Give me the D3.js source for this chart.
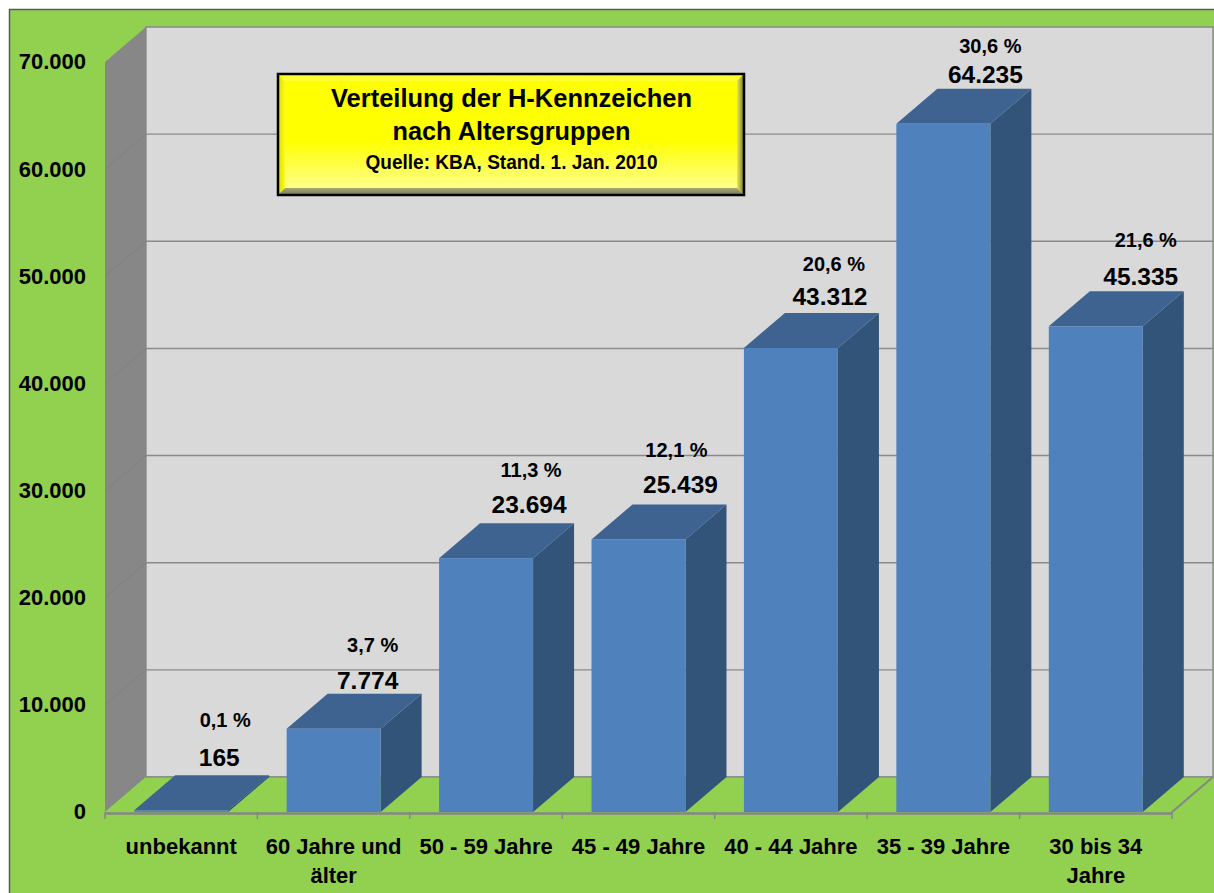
<!DOCTYPE html>
<html><head><meta charset="utf-8">
<script src="https://cdn.jsdelivr.net/npm/d3@7"></script>
<style>html,body{margin:0;padding:0;background:#fff;overflow:hidden}svg{display:block}text{font-family:"Liberation Sans",Arial,sans-serif;font-weight:bold;fill:#000}</style>
</head><body><svg id="c" width="1214" height="893"></svg>
<script>
const categories=["unbekannt","60 Jahre und|älter","50 - 59 Jahre","45 - 49 Jahre","40 - 44 Jahre","35 - 39 Jahre","30 bis 34|Jahre"];
const values=[165,7774,23694,25439,43312,64235,45335];
const valueLabels=["165","7.774","23.694","25.439","43.312","64.235","45.335"];
const percentLabels=["0,1 %","3,7 %","11,3 %","12,1 %","20,6 %","30,6 %","21,6 %"];
const yTicks=[0,10000,20000,30000,40000,50000,60000,70000];
const yTickLabels=["0","10.000","20.000","30.000","40.000","50.000","60.000","70.000"];
const titleLines=["Verteilung der H-Kennzeichen","nach Altersgruppen","Quelle: KBA, Stand. 1. Jan. 2010"];

// Layout: hand-placed label offsets as in the original, relative to each bar's front-top centre
const valueNudge=[[38,-53],[34,-48],[43,-54],[42,-55],[39,-51],[42,-49],[45,-50]];
const pctNudge=[[44,-90],[39,-84],[45,-88],[38,-89],[43,-84],[47,-78],[50,-86]];

const svg=d3.select("#c");
const L=105,R=1172,Y0=812,YT=62,DX=41,DY=-35;
const x=d3.scaleBand().domain(categories).range([L,R]).paddingInner(0);
const y=d3.scaleLinear().domain([0,70000]).range([Y0,YT]);
const BW=94;
const poly=p=>p.map(a=>a.join(",")).join(" ");

svg.append("rect").attr("x",9.5).attr("y",9.5).attr("width",1240).attr("height",920).attr("fill","#92D050").attr("stroke","#5a5a5a").attr("stroke-width",1.5);

// walls
svg.append("polygon").attr("points",poly([[L+DX,y(70000)+DY],[R+DX,y(70000)+DY],[R+DX,Y0+DY],[L+DX,Y0+DY]])).attr("fill","#D9D9D9").attr("stroke","#868686").attr("stroke-width",1.3);
svg.append("polygon").attr("points",poly([[L,y(70000)],[L+DX,y(70000)+DY],[L+DX,Y0+DY],[L,Y0]])).attr("fill","#878787");
svg.append("polygon").attr("points",poly([[L,Y0],[L+DX,Y0+DY],[R+DX,Y0+DY],[R,Y0]])).attr("fill","#92D050");
svg.append("line").attr("x1",L+DX).attr("x2",R+DX).attr("y1",Y0+DY).attr("y2",Y0+DY).attr("stroke","#8c8c8c").attr("stroke-width",1.6);
svg.append("line").attr("x1",R).attr("x2",R+DX).attr("y1",Y0).attr("y2",Y0+DY).attr("stroke","#868686").attr("stroke-width",2);

// grid
const grid=svg.append("g");
yTicks.filter(d=>d>0&&d<70000).forEach(d=>{
  grid.append("line").attr("x1",L+DX).attr("x2",R+DX).attr("y1",y(d)+DY).attr("y2",y(d)+DY).attr("stroke","#8a8a8a").attr("stroke-width",1.4);
  grid.append("line").attr("x1",L).attr("x2",L+DX).attr("y1",y(d)).attr("y2",y(d)+DY).attr("stroke","#7f7f7f").attr("stroke-width",.8);
});

// bars
const bars=svg.append("g").selectAll("g").data(values).join("g");
const fx=(d,i)=>x(categories[i])+(x.bandwidth()-BW)/2;
bars.append("polygon").attr("fill","#335479").attr("points",(d,i)=>{const a=fx(d,i)+BW;return poly([[a,y(d)],[a+DX,y(d)+DY],[a+DX,Y0+DY],[a,Y0]]);});
bars.append("polygon").attr("fill","#3E6390").attr("points",(d,i)=>{const a=fx(d,i);return poly([[a,y(d)],[a+DX,y(d)+DY],[a+BW+DX,y(d)+DY],[a+BW,y(d)]]);});
bars.append("rect").attr("fill","#4F81BD").attr("x",fx).attr("y",d=>y(d)).attr("width",BW).attr("height",d=>Y0-y(d));

// axes
const yAxis=d3.axisLeft(y).tickValues(yTicks).tickSize(0).tickPadding(19).tickFormat((d,i)=>yTickLabels[i]);
const ga=svg.append("g").attr("transform",`translate(${L},0)`).call(yAxis);
ga.select(".domain").remove();
ga.selectAll("text").attr("font-size",22).attr("dy","0.36em").attr("transform","translate(0,-1)").style("font-family",'"Liberation Sans"').style("font-weight","bold");

const xAxis=d3.axisBottom(x).tickSize(0).tickPadding(0).tickFormat(()=>"");
const gb=svg.append("g").attr("transform",`translate(0,${Y0+1})`).call(xAxis);
gb.select(".domain").attr("stroke","#868686").attr("stroke-width",2.5);
gb.selectAll(".tick text").each(function(d){
  const t=d3.select(this).attr("y",0).attr("dy",null).attr("font-size",22).style("font-family",'"Liberation Sans"').style("font-weight","bold");
  d.split("|").forEach((s,k)=>t.append("tspan").attr("x",0).attr("y",41+k*29).text(s));
});
const edges=[...categories.map(c=>x(c)),R];
svg.append("g").selectAll("line").data(edges).join("line").attr("x1",d=>d).attr("x2",d=>d).attr("y1",Y0).attr("y2",Y0+7).attr("stroke","#868686").attr("stroke-width",1.5);

// labels
const cx=i=>x(categories[i])+x.bandwidth()/2;
svg.append("g").selectAll("text").data(valueLabels).join("text").attr("text-anchor","middle").attr("dominant-baseline","central").attr("font-size",24.5)
 .attr("x",(d,i)=>cx(i)+valueNudge[i][0]).attr("y",(d,i)=>y(values[i])+valueNudge[i][1]).text(d=>d);
svg.append("g").selectAll("text").data(percentLabels).join("text").attr("text-anchor","middle").attr("dominant-baseline","central").attr("font-size",20)
 .attr("x",(d,i)=>cx(i)+pctNudge[i][0]).attr("y",(d,i)=>y(values[i])+pctNudge[i][1]).text(d=>d);

// title box
const defs=svg.append("defs");
const grad=(id,dir,stops)=>{const g=defs.append("linearGradient").attr("id",id).attr("x1",0).attr("y1",0).attr("x2",dir=="h"?1:0).attr("y2",dir=="h"?0:1);stops.forEach(s=>g.append("stop").attr("offset",s[0]).attr("stop-color",s[1]));};
grad("yg","v",[[0,"#ffff00"],[0.55,"#ffff00"],[1,"#ffffa0"]]);
grad("bl","h",[[0,"#dcdc00"],[1,"#fbfb20"]]);
grad("br","h",[[0,"#e8e860"],[1,"#75752a"]]);
grad("bb","v",[[0,"#a8a870"],[1,"#77775a"]]);
const T=svg.append("g");
const bx=278,by=74,bw=466,bh=121,b=7;
T.append("rect").attr("x",bx).attr("y",by).attr("width",bw).attr("height",bh).attr("fill","url(#yg)");
T.append("polygon").attr("points",poly([[bx,by],[bx+b,by+b],[bx+b,by+bh-b],[bx,by+bh]])).attr("fill","url(#bl)");
T.append("polygon").attr("points",poly([[bx,by],[bx+bw,by],[bx+bw-b,by+b],[bx+b,by+b]])).attr("fill","#ffff30");
T.append("polygon").attr("points",poly([[bx+bw,by],[bx+bw,by+bh],[bx+bw-b,by+bh-b],[bx+bw-b,by+b]])).attr("fill","url(#br)");
T.append("polygon").attr("points",poly([[bx,by+bh],[bx+b,by+bh-b],[bx+bw-b,by+bh-b],[bx+bw,by+bh]])).attr("fill","url(#bb)");
T.append("rect").attr("x",bx).attr("y",by).attr("width",bw).attr("height",bh).attr("fill","none").attr("stroke","#000").attr("stroke-width",2.5);
[[98,26.5,361],[131,26.5,238],[162,19.5,292]].forEach((p,i)=>T.append("text").attr("x",511.5).attr("y",p[0]).attr("text-anchor","middle").attr("dominant-baseline","central").attr("font-size",p[1]).attr("textLength",p[2]).attr("lengthAdjust","spacingAndGlyphs").text(titleLines[i]));
</script></body></html>
